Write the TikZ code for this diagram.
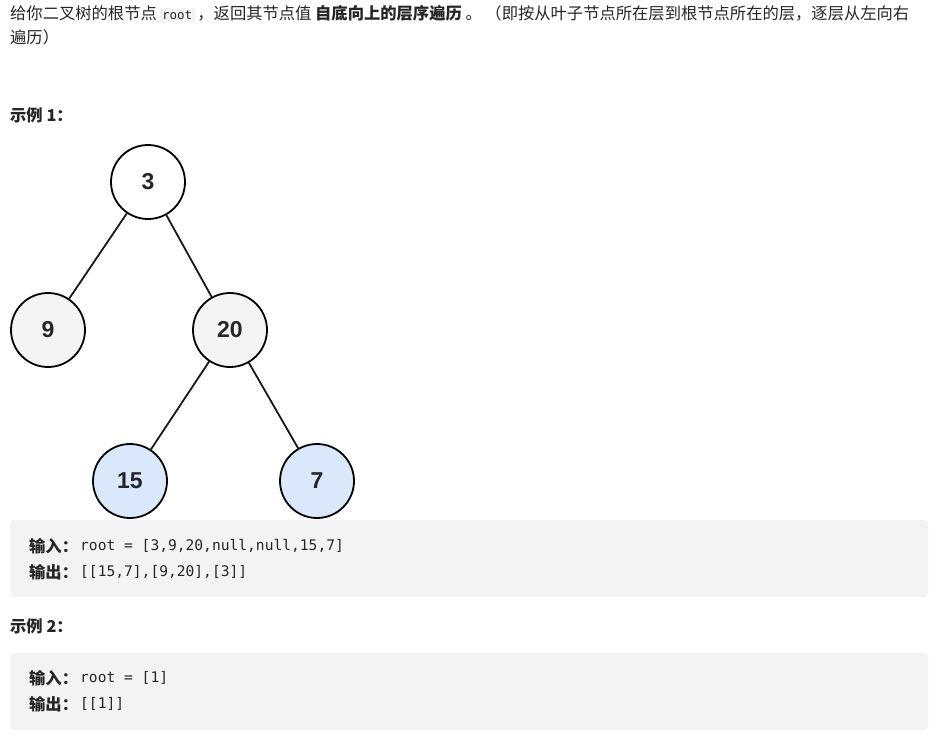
\documentclass[tikz,border=0pt]{standalone}
\usepackage{fontspec}
\setmainfont{Noto Sans CJK SC}
\newfontfamily\lib{Liberation Sans}
\newfontfamily\cmono{DejaVu Sans Mono}
\definecolor{codebg}{HTML}{F2F3F5}
\definecolor{txt}{HTML}{262626}
\definecolor{lblue}{HTML}{DAE8FC}
\definecolor{lgray}{HTML}{F4F4F4}
\begin{document}
\begin{tikzpicture}[x=1pt,y=-1pt,
  tn/.style={circle,draw=black,line width=1.8pt,minimum size=74pt,inner sep=0pt,font=\lib\bfseries\fontsize{23}{25}\selectfont,text=black!85},
  edge/.style={line width=1.8pt,black!90},
  tx/.style={anchor=west,inner sep=0pt,text=txt,font=\fontsize{16.3}{18}\selectfont},
  code/.style={anchor=west,inner sep=0pt,text=txt,font=\cmono\fontsize{14.6}{16}\selectfont},
  box/.style={fill=codebg,rounded corners=4pt,draw=none}]
\useasboundingbox (0,0) rectangle (946,740);
\fill[white] (0,0) rectangle (946,740);
\node[tx] (l1) at (10,14) {给你二叉树的根节点\,{\setlength{\fboxsep}{2.5pt}\colorbox{codebg}{\cmono\fontsize{12.5}{14}\selectfont root}}\,，返回其节点值 \textbf{自底向上的层序遍历} 。 （即按从叶子节点所在层到根节点所在的层，逐层从左向右};
\node[tx] (l2) at (10,37) {遍历）};
\node[tx] (h1) at (10,115) {\textbf{示例 1：}};
\node[tn,fill=white] (n3) at (148,182) {3};
\node[tn,fill=lgray] (n9) at (48,330) {9};
\node[tn,fill=lgray] (n20) at (230,330) {20};
\node[tn,fill=lblue] (n15) at (130,481) {15};
\node[tn,fill=lblue] (n7) at (317,481) {7};
\draw[edge] (n3) -- (n9);
\draw[edge] (n3) -- (n20);
\draw[edge] (n20) -- (n15);
\draw[edge] (n20) -- (n7);
\path[box] (10,520) rectangle (928,597);
\node[tx] (i1) at (29,546) {\textbf{输入：}};
\node[code] (c1) at (80,546) {root = [3,9,20,null,null,15,7]};
\node[tx] (o1) at (29,572) {\textbf{输出：}};
\node[code] (c2) at (80,572) {[[15,7],[9,20],[3]]};
\node[tx] (h2) at (10,626) {\textbf{示例 2：}};
\path[box] (10,653) rectangle (928,730);
\node[tx] (i2) at (29,678) {\textbf{输入：}};
\node[code] (c3) at (80,678) {root = [1]};
\node[tx] (o2) at (29,704) {\textbf{输出：}};
\node[code] (c4) at (80,704) {[[1]]};
\end{tikzpicture}
\end{document}
